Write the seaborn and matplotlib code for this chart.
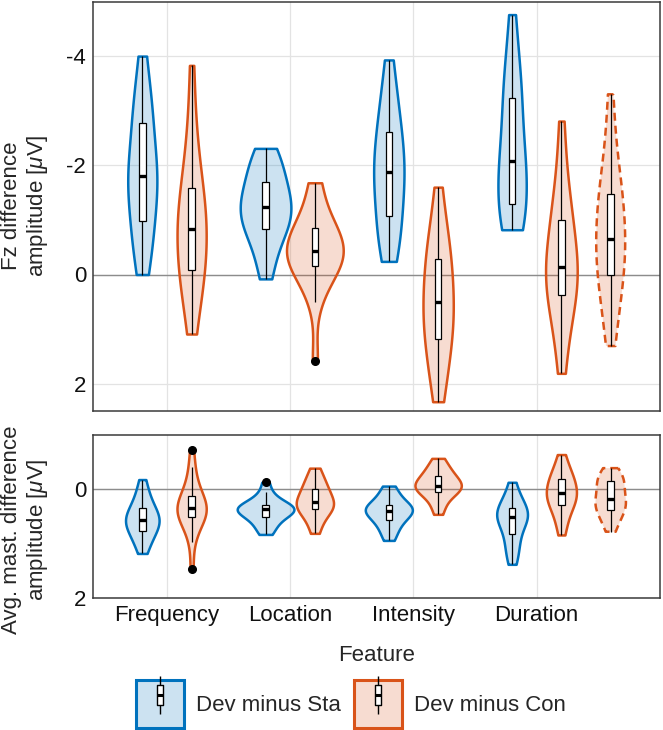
import numpy as np
import pandas as pd
import matplotlib
matplotlib.use("Agg")
import matplotlib.pyplot as plt
import seaborn as sns
from matplotlib.patches import Patch
from matplotlib.lines import Line2D
from matplotlib.legend_handler import HandlerTuple
from matplotlib.path import Path
from matplotlib.colors import to_rgba

# ---------------- data ----------------
features = ["Frequency", "Location", "Intensity", "Duration"]
conditions = ["Dev minus Sta", "Dev minus Con", "Dev minus Con (alt.)"]

# Fz difference amplitude [uV]
fz_freq_sta = [-4.0, -3.55, -3.2, -2.95, -2.82, -2.76, -2.35, -2.05, -1.92, -1.84, -1.76, -1.65, -1.55, -1.42, -1.0, -0.9, -0.75, -0.5, -0.25, 0.0]
fz_freq_con = [-3.83, -2.9, -2.4, -2.0, -1.7, -1.55, -1.35, -1.2, -1.0, -0.9, -0.78, -0.65, -0.5, -0.3, -0.1, 0.0, 0.15, 0.35, 0.65, 1.09]
fz_loc_sta = [-2.31, -2.2, -2.05, -1.95, -1.8, -1.65, -1.55, -1.45, -1.38, -1.28, -1.2, -1.12, -1.05, -0.95, -0.85, -0.8, -0.65, -0.45, -0.2, 0.08]
fz_loc_con = [-1.68, -1.55, -1.1, -0.95, -0.88, -0.84, -0.7, -0.6, -0.5, -0.45, -0.4, -0.35, -0.3, -0.25, -0.17, -0.1, 0.05, 0.2, 0.51, 1.58]
fz_int_sta = [-3.93, -3.5, -3.2, -2.95, -2.7, -2.58, -2.4, -2.2, -2.05, -1.92, -1.82, -1.7, -1.55, -1.4, -1.1, -0.95, -0.8, -0.6, -0.4, -0.24]
fz_int_con = [-1.6, -1.1, -0.8, -0.55, -0.35, -0.27, -0.1, 0.1, 0.3, 0.45, 0.57, 0.7, 0.85, 1.0, 1.15, 1.3, 1.5, 1.75, 2.0, 2.33]
fz_dur_sta = [-4.76, -4.2, -3.8, -3.5, -3.3, -3.2, -2.9, -2.6, -2.3, -2.12, -2.02, -1.9, -1.78, -1.6, -1.35, -1.15, -1.05, -0.95, -0.88, -0.82]
fz_dur_con = [-2.81, -2.1, -1.6, -1.3, -1.05, -0.98, -0.75, -0.5, -0.3, -0.18, -0.08, 0.0, 0.1, 0.2, 0.33, 0.5, 0.7, 0.95, 1.3, 1.81]
fz_dur_con2 = [-3.3, -2.6, -2.1, -1.8, -1.55, -1.45, -1.3, -1.1, -0.9, -0.72, -0.58, -0.45, -0.35, -0.2, -0.05, 0.15, 0.35, 0.6, 0.9, 1.31]

# Avg. mastoid difference amplitude [uV]
mast_freq_sta = [-0.18, 0.0, 0.12, 0.22, 0.3, 0.35, 0.42, 0.47, 0.51, 0.54, 0.58, 0.61, 0.65, 0.7, 0.75, 0.8, 0.87, 0.95, 1.05, 1.18]
mast_freq_con = [-0.72, -0.41, -0.2, -0.05, 0.08, 0.13, 0.2, 0.26, 0.3, 0.33, 0.37, 0.4, 0.43, 0.47, 0.5, 0.55, 0.62, 0.75, 0.97, 1.47]
mast_loc_sta = [-0.13, 0.05, 0.15, 0.22, 0.27, 0.3, 0.32, 0.34, 0.35, 0.36, 0.38, 0.4, 0.43, 0.46, 0.5, 0.54, 0.6, 0.67, 0.75, 0.83]
mast_loc_con = [-0.39, -0.28, -0.18, -0.1, -0.04, 0.0, 0.06, 0.12, 0.18, 0.22, 0.26, 0.29, 0.31, 0.33, 0.36, 0.4, 0.47, 0.56, 0.68, 0.81]
mast_int_sta = [-0.06, 0.02, 0.1, 0.18, 0.25, 0.29, 0.32, 0.34, 0.36, 0.38, 0.4, 0.42, 0.45, 0.5, 0.55, 0.6, 0.66, 0.74, 0.84, 0.94]
mast_int_con = [-0.57, -0.48, -0.4, -0.33, -0.28, -0.24, -0.2, -0.15, -0.11, -0.08, -0.06, -0.04, -0.02, 0.0, 0.03, 0.07, 0.13, 0.22, 0.33, 0.46]
mast_dur_sta = [-0.13, 0.05, 0.15, 0.25, 0.32, 0.36, 0.4, 0.44, 0.47, 0.5, 0.52, 0.56, 0.62, 0.7, 0.8, 0.92, 1.02, 1.12, 1.25, 1.38]
mast_dur_con = [-0.64, -0.48, -0.36, -0.28, -0.22, -0.18, -0.12, -0.05, 0.0, 0.05, 0.09, 0.13, 0.17, 0.22, 0.27, 0.33, 0.42, 0.53, 0.67, 0.84]
mast_dur_con2 = [-0.39, -0.3, -0.24, -0.19, -0.17, -0.14, -0.05, 0.02, 0.09, 0.14, 0.2, 0.25, 0.29, 0.32, 0.36, 0.41, 0.48, 0.56, 0.66, 0.78]

fz_groups = [
    ("Frequency", "Dev minus Sta", fz_freq_sta), ("Frequency", "Dev minus Con", fz_freq_con),
    ("Location", "Dev minus Sta", fz_loc_sta), ("Location", "Dev minus Con", fz_loc_con),
    ("Intensity", "Dev minus Sta", fz_int_sta), ("Intensity", "Dev minus Con", fz_int_con),
    ("Duration", "Dev minus Sta", fz_dur_sta), ("Duration", "Dev minus Con", fz_dur_con),
    ("Duration", "Dev minus Con (alt.)", fz_dur_con2),
]
mast_groups = [
    ("Frequency", "Dev minus Sta", mast_freq_sta), ("Frequency", "Dev minus Con", mast_freq_con),
    ("Location", "Dev minus Sta", mast_loc_sta), ("Location", "Dev minus Con", mast_loc_con),
    ("Intensity", "Dev minus Sta", mast_int_sta), ("Intensity", "Dev minus Con", mast_int_con),
    ("Duration", "Dev minus Sta", mast_dur_sta), ("Duration", "Dev minus Con", mast_dur_con),
    ("Duration", "Dev minus Con (alt.)", mast_dur_con2),
]

# ---------------- style ----------------
BLUE = "#0072BD"
ORANGE = "#D95319"
offsets = {"Dev minus Sta": -0.2, "Dev minus Con": 0.2, "Dev minus Con (alt.)": 0.6}
cond_style = {
    "Dev minus Sta": dict(color=BLUE, ls="-"),
    "Dev minus Con": dict(color=ORANGE, ls="-"),
    "Dev minus Con (alt.)": dict(color=ORANGE, ls=(0, (3.2, 2.0))),
}

sns.set_style("white")
plt.rcParams["font.family"] = ["Liberation Sans", "DejaVu Sans"]
plt.rcParams["mathtext.fontset"] = "custom"
plt.rcParams["mathtext.rm"] = "Liberation Sans"
plt.rcParams["mathtext.it"] = "Liberation Sans:italic"
FS = 16
AXC = "#3a3a3a"


def to_frame(groups):
    rows = []
    for feat, cond, vals in groups:
        pos = round(features.index(feat) + offsets[cond], 3)
        for v in vals:
            rows.append({"feature": feat, "condition": cond, "pos": pos, "value": v})
    return pd.DataFrame(rows)


def draw_panel(ax, groups, width):
    df = to_frame(groups)
    pos_style = {round(features.index(f) + offsets[c], 3): cond_style[c] for f, c, _ in groups}
    n0 = len(ax.collections)
    sns.violinplot(data=df, x="pos", y="value", native_scale=True, cut=0, inner=None,
                   width=width, density_norm="area", color="white", linecolor="black",
                   linewidth=1.8, saturation=1, ax=ax)
    for coll in ax.collections[n0:]:
        verts = coll.get_paths()[0].vertices
        xc = 0.5 * (verts[:, 0].min() + verts[:, 0].max())
        key = min(pos_style, key=lambda p: abs(p - xc))
        st = pos_style[key]
        coll.set_facecolor(to_rgba(st["color"], 0.2))
        coll.set_edgecolor(st["color"])
        coll.set_linestyle(st["ls"])
        coll.set_linewidth(1.8)
        coll.set_zorder(2)
    sns.boxplot(data=df, x="pos", y="value", native_scale=True, width=0.13, color="white",
                linecolor="black", linewidth=0.9, saturation=1, showcaps=False, whis=1.5,
                fliersize=5.5,
                flierprops=dict(marker="o", markerfacecolor="black", markeredgecolor="black"),
                medianprops=dict(linewidth=2.4), ax=ax)
    for p in ax.patches:
        p.set_zorder(3)
    for l in ax.lines:
        l.set_zorder(4)


fig = plt.figure(figsize=(6.63, 7.3), dpi=100)
ax1 = fig.add_axes([93 / 663, 1 - 411 / 730, 567 / 663, 409.5 / 730])
ax2 = fig.add_axes([93 / 663, 1 - 598 / 730, 567 / 663, 163 / 730])

draw_panel(ax1, fz_groups, 1.15)
draw_panel(ax2, mast_groups, 1.15)

for ax in (ax1, ax2):
    ax.set_xlim(-0.6, 4.0)
    ax.set_xticks(range(len(features)))
    ax.grid(True, color="#e3e3e3", linewidth=0.9)
    ax.set_axisbelow(True)
    ax.axhline(0, color="#8c8c8c", linewidth=1.0, zorder=1)
    for s in ax.spines.values():
        s.set_color(AXC)
        s.set_linewidth(1.1)
    ax.tick_params(direction="in", length=6, width=1.0, color=AXC, labelsize=FS,
                   labelcolor="#111111", pad=5, top=False, right=False)
    ax.set_xlabel("")

ax1.set_ylim(2.5, -5)
ax1.set_yticks([-4, -2, 0, 2])
ax1.set_yticklabels(["-4", "-2", "0", "2"])
ax1.set_xticklabels([])
ax1.set_ylabel("Fz difference\namplitude [$\\mu$V]", fontsize=FS)
ax1.yaxis.set_label_coords(-0.075, 0.5)

ax2.set_ylim(2, -1)
ax2.set_yticks([0, 2])
ax2.set_yticklabels(["0", "2"])
ax2.set_xticklabels(features)
ax2.set_ylabel("Avg. mast. difference\namplitude [$\\mu$V]", fontsize=FS)
ax2.yaxis.set_label_coords(-0.075, 0.42)
ax2.set_xlabel("Feature", fontsize=FS, labelpad=14)

# legend
box_marker = Path([(-0.3, -1), (0.3, -1), (0.3, 1), (-0.3, 1), (-0.3, -1)],
                  [Path.MOVETO, Path.LINETO, Path.LINETO, Path.LINETO, Path.CLOSEPOLY])
handles = []
for c in ["Dev minus Sta", "Dev minus Con"]:
    col = cond_style[c]["color"]
    handles.append((
        Patch(facecolor=to_rgba(col, 0.2), edgecolor=col, linewidth=2.2),
        Line2D([], [], marker="|", markersize=28, markeredgewidth=1.0, color="black", linestyle="None"),
        Line2D([], [], marker=box_marker, markersize=15, markerfacecolor="white",
               markeredgecolor="black", markeredgewidth=1.0, linestyle="None"),
        Line2D([], [], marker="_", markersize=4.5, markeredgewidth=2.2, color="black", linestyle="None"),
    ))
fig.legend(handles, ["Dev minus Sta", "Dev minus Con"], loc="center",
           bbox_to_anchor=(351 / 663, 1 - 704 / 730), ncol=2, frameon=False, fontsize=FS,
           handler_map={tuple: HandlerTuple(ndivide=1, pad=0)}, handlelength=2.15, handleheight=2.95,
           handletextpad=0.55, columnspacing=0.6, borderpad=0.1)

fig.savefig("out.png", dpi=100)
